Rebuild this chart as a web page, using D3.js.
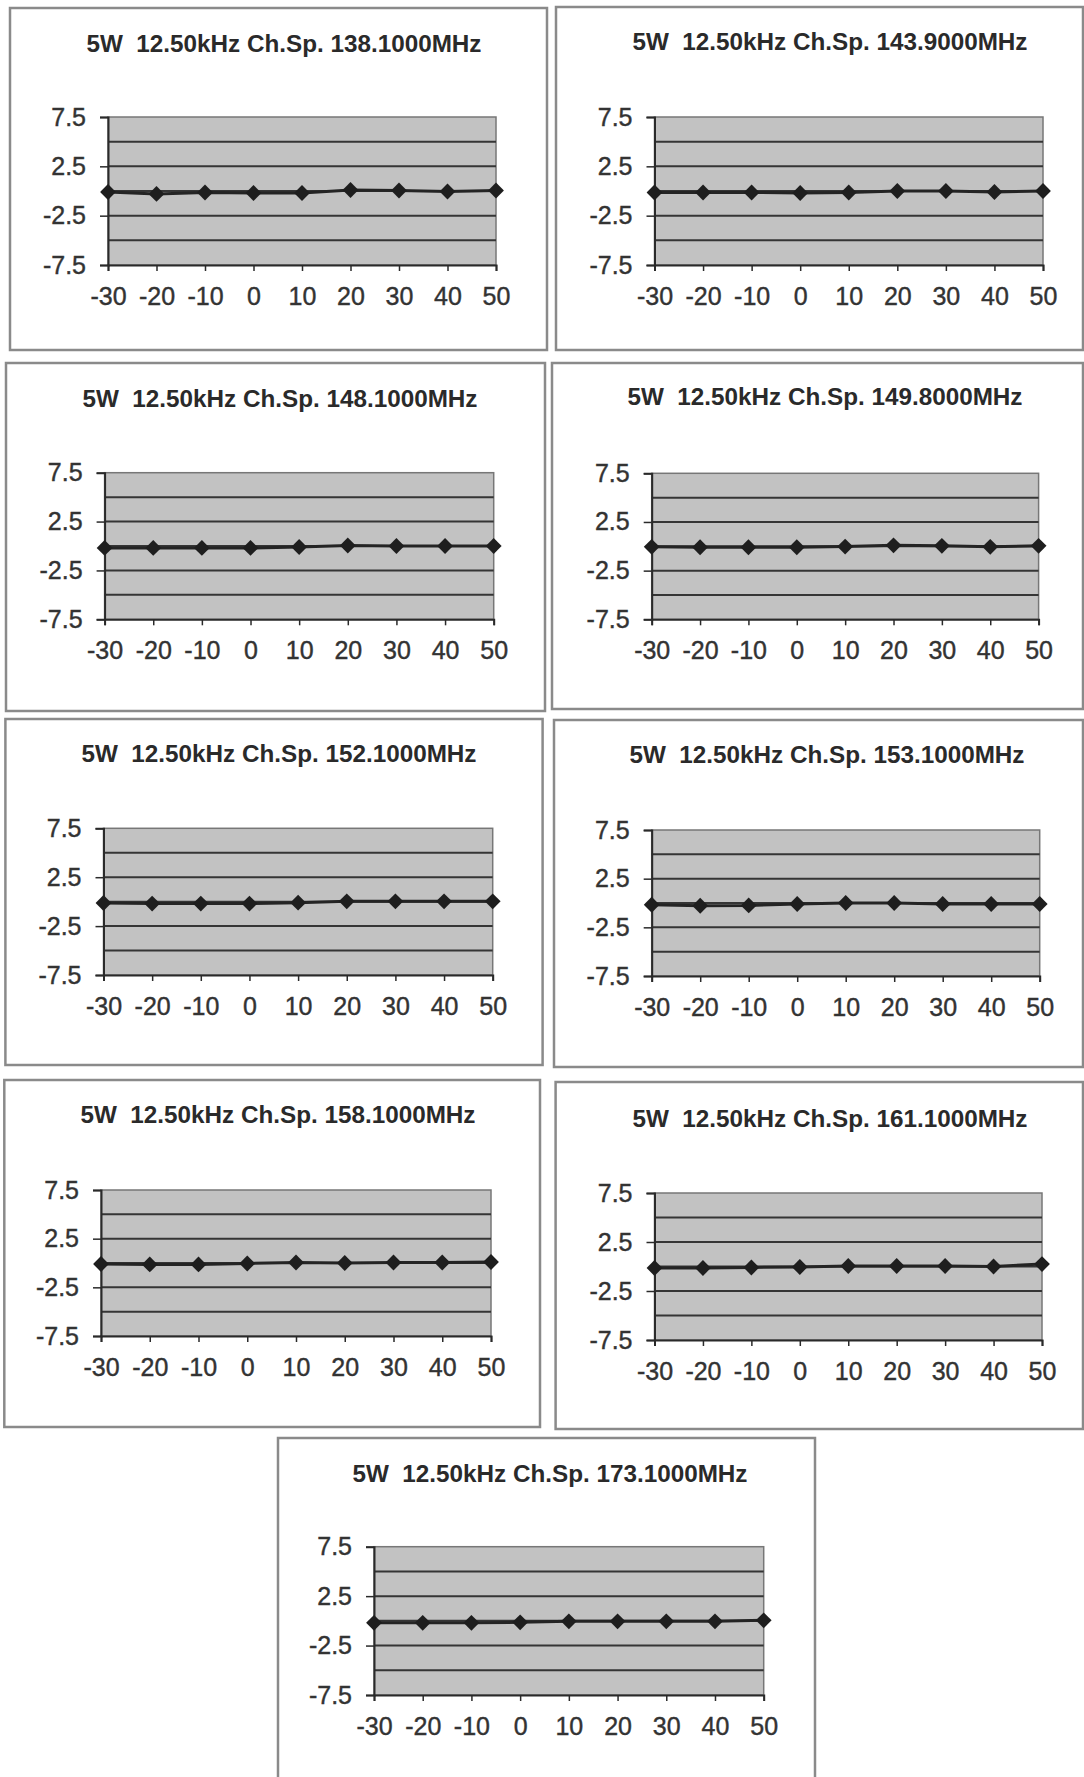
<!DOCTYPE html>
<html>
<head>
<meta charset="utf-8">
<script src="https://cdn.jsdelivr.net/npm/d3@7"></script>
<style>
  html, body { margin: 0; padding: 0; background: #ffffff; }
  svg { display: block; }
  text { font-family: "Liberation Sans", Arial, sans-serif; }
</style>
</head>
<body>
<svg id="chart" width="1084" height="1777"></svg>
<script>
// ---- data ----
const temperatures = [-30, -20, -10, 0, 10, 20, 30, 40, 50];
const frequencies = ["138.1000", "143.9000", "148.1000", "149.8000", "152.1000",
                     "153.1000", "158.1000", "161.1000", "173.1000"];
const titlePrefix = "5W  12.50kHz Ch.Sp. ";
const titleSuffix = "MHz";
const yTickLabels = [-7.5, -2.5, 2.5, 7.5];
const yGridValues = [-5, -2.5, 0, 2.5, 5];
const yDomain = [-7.5, 7.5];

const dev138 = [-0.10, -0.30, -0.15, -0.20, -0.20, 0.10, 0.05, -0.05, 0.05];
const dev143 = [-0.15, -0.15, -0.15, -0.20, -0.15, 0.00, 0.00, -0.10, 0.00];
const dev148 = [-0.20, -0.20, -0.20, -0.20, -0.10, 0.05, 0.00, 0.00, 0.00];
const dev149 = [-0.05, -0.10, -0.10, -0.10, -0.03, 0.10, 0.05, -0.05, 0.05];
const dev152 = [-0.14, -0.20, -0.20, -0.20, -0.10, 0.03, 0.03, 0.03, 0.03];
const dev153 = [-0.18, -0.28, -0.25, -0.10, 0.00, 0.00, -0.10, -0.10, -0.10];
const dev158 = [-0.10, -0.15, -0.15, -0.05, 0.05, 0.00, 0.05, 0.05, 0.10];
const dev161 = [-0.15, -0.15, -0.10, -0.05, 0.05, 0.05, 0.05, 0.00, 0.25];
const dev173 = [-0.20, -0.20, -0.20, -0.15, -0.05, -0.05, -0.05, -0.05, 0.05];
const seriesList = [dev138, dev143, dev148, dev149, dev152, dev153, dev158, dev161, dev173];

// ---- layout (box, plot area, title) ----
const layout = [
  {box: [10, 8, 547, 350],      plot: [108, 117, 496, 265],        tx: 284, ty: 52},
  {box: [556, 7, 1083, 350],    plot: [654.5, 117, 1043, 265],     tx: 830, ty: 50},
  {box: [6, 363, 545, 711],     plot: [104.6, 472.7, 493.7, 619.3], tx: 280, ty: 407},
  {box: [552, 363, 1083, 709],  plot: [651.7, 473.3, 1038.6, 619.3], tx: 825, ty: 405},
  {box: [5.4, 719, 542.6, 1065], plot: [103.5, 828.3, 492.7, 975],  tx: 279, ty: 762},
  {box: [554, 720, 1083, 1067], plot: [651.7, 830, 1039.7, 976],   tx: 827, ty: 763},
  {box: [4.3, 1080, 540, 1427], plot: [101, 1190, 491, 1336],      tx: 278, ty: 1123},
  {box: [555.6, 1082, 1083, 1429], plot: [654.5, 1193, 1042, 1340], tx: 830, ty: 1127},
  {box: [278, 1438, 815, 1800], plot: [374, 1546.7, 763.7, 1695],  tx: 550, ty: 1482}
];

const svg = d3.select("#chart");
const fmt = d => String(d);

layout.forEach((L, i) => {
  const g = svg.append("g");
  const [bx0, by0, bx1, by1] = L.box;
  g.append("rect")
    .attr("x", bx0).attr("y", by0)
    .attr("width", bx1 - bx0).attr("height", by1 - by0)
    .attr("fill", "#ffffff")
    .attr("stroke", "#8a8a8a").attr("stroke-width", 2.5);

  const [px0, py0, px1, py1] = L.plot;
  const x = d3.scaleLinear().domain([temperatures[0], temperatures[temperatures.length - 1]]).range([px0, px1]);
  const y = d3.scaleLinear().domain(yDomain).range([py1, py0]);

  // title
  g.append("text")
    .attr("x", L.tx).attr("y", L.ty)
    .attr("text-anchor", "middle")
    .attr("font-size", 23.5).attr("font-weight", "bold")
    .attr("fill", "#2a2a2a")
    .style("white-space", "pre")
    .attr("textLength", 395).attr("lengthAdjust", "spacingAndGlyphs")
    .text(titlePrefix + frequencies[i] + titleSuffix);

  // plot background
  g.append("rect")
    .attr("x", px0).attr("y", py0)
    .attr("width", px1 - px0).attr("height", py1 - py0)
    .attr("fill", "#c2c2c2")
    .attr("stroke", "#777777").attr("stroke-width", 1.5);

  // gridlines
  g.selectAll(".grid").data(yGridValues).enter().append("line")
    .attr("x1", px0).attr("x2", px1)
    .attr("y1", d => y(d)).attr("y2", d => y(d))
    .attr("stroke", "#353535").attr("stroke-width", 2);

  // axes
  const yAxis = d3.axisLeft(y).tickValues(yTickLabels).tickSize(8).tickPadding(14).tickFormat(fmt);
  const xAxis = d3.axisBottom(x).tickValues(temperatures).tickSize(6).tickPadding(16).tickFormat(fmt);

  const ya = g.append("g").attr("transform", `translate(${px0},0)`).call(yAxis);
  const xa = g.append("g").attr("transform", `translate(0,${py1})`).call(xAxis);
  [ya, xa].forEach(a => {
    a.select(".domain").attr("stroke", "#2a2a2a").attr("stroke-width", 2);
    a.selectAll(".tick line").attr("stroke", "#2a2a2a").attr("stroke-width", 1.5);
    a.selectAll(".tick text")
      .attr("font-size", 25)
      .attr("font-family", "'Liberation Sans', Arial, sans-serif")
      .attr("fill", "#333333")
      .attr("stroke", "#333333").attr("stroke-width", 0.4);
  });

  // data line
  const vals = seriesList[i];
  const pts = temperatures.map((t, k) => ({t, v: vals[k]}));
  g.append("path")
    .datum(pts)
    .attr("fill", "none")
    .attr("stroke", "#242424").attr("stroke-width", 3)
    .attr("d", d3.line().x(d => x(d.t)).y(d => y(d.v)));

  g.selectAll(".marker").data(pts).enter().append("path")
    .attr("d", d3.symbol().type(d3.symbolSquare).size(125))
    .attr("transform", d => `translate(${x(d.t)},${y(d.v)}) rotate(45)`)
    .attr("fill", "#1e1e1e");
});
</script>
</body>
</html>
